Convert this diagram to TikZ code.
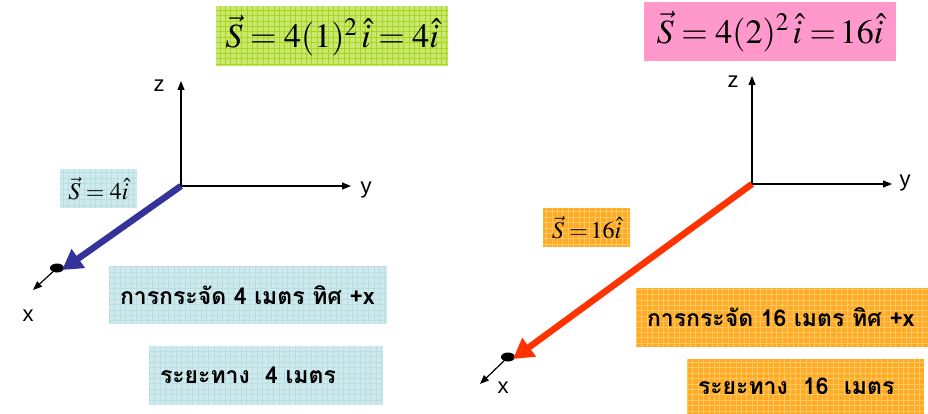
\documentclass[tikz,border=0pt]{standalone}
\usepackage{mathptmx}
\usepackage{fontspec}
\setsansfont{Liberation Sans}
\newfontfamily\thaifont[Script=Thai]{Loma}
\definecolor{eqgreen}{RGB}{200,232,110}
\definecolor{eqgreenline}{RGB}{168,212,40}
\definecolor{eqpink}{RGB}{255,153,204}
\definecolor{boxcyan}{RGB}{206,234,236}
\definecolor{boxcyanline}{RGB}{186,222,226}
\definecolor{boxorange}{RGB}{255,170,40}
\definecolor{boxorangeline}{RGB}{255,200,90}
\definecolor{vecblue}{RGB}{51,51,153}
\definecolor{vecred}{RGB}{255,51,0}
\usetikzlibrary{arrows.meta,positioning,shapes.geometric}

\tikzset{
  gridbox/.style={path picture={\draw[#1, line width=0.5pt, step=5.4pt]
      (path picture bounding box.south west) grid (path picture bounding box.north east);}},
  bigeq/.style={inner sep=0pt, font=\fontsize{34}{40}\selectfont},
  smalleq/.style={inner sep=0pt, font=\fontsize{24}{28}\selectfont},
  thaibox/.style={inner xsep=11pt, inner ysep=0pt, align=left,
      font=\thaifont\bfseries\fontsize{23}{27}\selectfont},
  axis/.style={line width=1.2pt, -{Triangle[length=9pt,width=7pt]}},
  axlabel/.style={font=\sffamily\fontsize{22}{24}\selectfont, inner sep=0pt},
  bigvec/.style={line width=6.5pt, -{Triangle[length=20pt,width=22pt]}},
  tipdot/.style={ellipse, fill=black, inner sep=0pt, minimum width=14pt, minimum height=9pt}
}

\begin{document}
\begin{tikzpicture}[x=1pt, y=-1pt]
  \useasboundingbox (0,0) rectangle (928,414);

  % equations at the top
  \node[bigeq, fill=eqgreen, gridbox=eqgreenline, minimum width=232pt, minimum height=60pt]
    (eqA) at (332,36) {$\vec{S}=4(1)^2\,\hat{i}=4\hat{i}$};
  \node[bigeq, fill=eqpink, minimum width=252pt, minimum height=59pt]
    (eqB) at (770,31.5) {$\vec{S}=4(2)^2\,\hat{i}\;{=}\,16\hat{i}$};

  % left: t = 1 s
  \coordinate (oA) at (181,186);
  \coordinate (zA) at (181,81);
  \coordinate (yA) at (351,186);
  \coordinate (xA) at (33,290);
  \node[tipdot] (tipA) at (57,268) {};
  \draw[axis] (oA) -- (zA);
  \draw[axis] (oA) -- (yA);
  \draw[axis] (tipA.center) -- (xA);
  \draw[bigvec, vecblue] (oA) -- (62,270);
  \node[axlabel] (zlabA) at (159,86) {z};
  \node[axlabel] (ylabA) at (366,190) {y};
  \node[axlabel] (xlabA) at (28,316) {x};

  \node[smalleq, fill=boxcyan, gridbox=boxcyanline, minimum width=77pt, minimum height=39pt]
    (sA) at (98.5,188.5) {$\vec{S}=4\hat{i}$};
  \node[thaibox, fill=boxcyan, gridbox=boxcyanline, text width=256pt, minimum height=58pt]
    (dispA) at (248,295) {การกระจัด 4 เมตร ทิศ +x};
  \node[thaibox, fill=boxcyan, gridbox=boxcyanline, text width=212pt, minimum height=59pt]
    (distA) at (266,375.5) {ระยะทาง~ 4 เมตร};

  % right: t = 2 s
  \coordinate (oB) at (752,184);
  \coordinate (zB) at (752,76);
  \coordinate (yB) at (892,184);
  \coordinate (xB) at (480,384);
  \node[tipdot] (tipB) at (508,357) {};
  \draw[axis] (oB) -- (zB);
  \draw[axis] (oB) -- (yB);
  \draw[axis] (tipB.center) -- (xB);
  \draw[bigvec, vecred] (oB) -- (513,359);
  \node[axlabel] (zlabB) at (733,82) {z};
  \node[axlabel] (ylabB) at (905,183) {y};
  \node[axlabel] (xlabB) at (503,388) {x};

  \node[smalleq, fill=boxorange, gridbox=boxorangeline, minimum width=87pt, minimum height=39pt]
    (sB) at (586.5,227.5) {$\vec{S}\;{=}\,16\hat{i}$};
  \node[thaibox, fill=boxorange, gridbox=boxorangeline, text width=270pt, minimum height=59pt]
    (dispB) at (782,317.5) {การกระจัด 16 เมตร ทิศ +x};
  \node[thaibox, fill=boxorange, gridbox=boxorangeline, text width=215pt, minimum height=55pt]
    (distB) at (805.5,386.5) {ระยะทาง~ 16~ เมตร};
\end{tikzpicture}
\end{document}
